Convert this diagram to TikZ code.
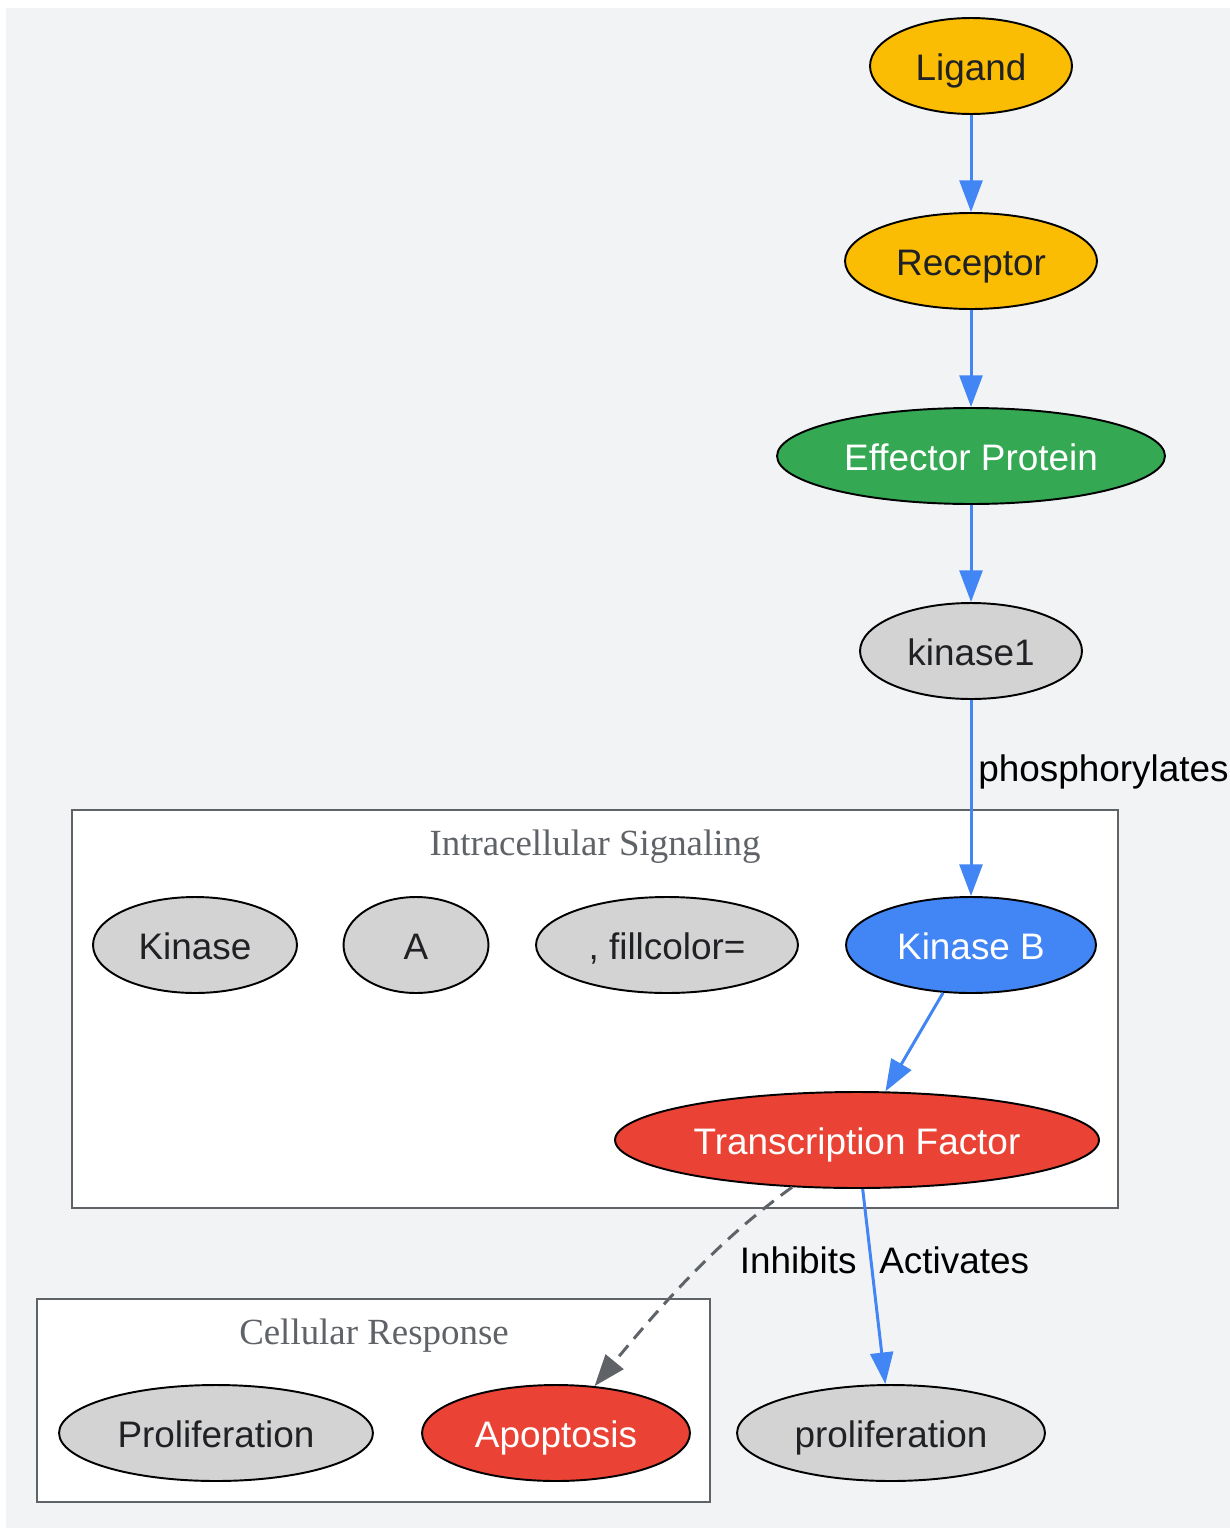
\documentclass[tikz,border=0pt]{standalone}
\usepackage{fontspec}
\setmainfont{Liberation Sans}
\newfontfamily\clusterfont{Liberation Serif}
\usetikzlibrary{shapes.geometric,arrows.meta}

\definecolor{pagebg}{HTML}{F1F3F4}
\definecolor{framegray}{HTML}{5F6368}
\definecolor{gyellow}{HTML}{FBBC04}
\definecolor{ggreen}{HTML}{34A853}
\definecolor{gblue}{HTML}{4285F4}
\definecolor{gred}{HTML}{EA4335}
\definecolor{ggray}{HTML}{D3D3D3}
\definecolor{darktext}{HTML}{202124}

\tikzset{
    mol/.style={
        ellipse,
        draw=black,
        line width=1.1pt,
        fill=ggray,
        text=darktext,
        inner sep=0pt,
        text height=17pt,
        text depth=0pt,
        minimum height=1.92cm,
        font=\fontsize{21}{25}\selectfont
    },
    onfill/.style={text=white},
    cluster/.style={
        draw=framegray,
        fill=white,
        line width=1.1pt
    },
    clusterlabel/.style={
        text=framegray,
        inner sep=0pt,
        font=\clusterfont\fontsize{21}{25}\selectfont
    },
    elabel/.style={
        text=black,
        inner sep=0pt,
        font=\fontsize{21}{25}\selectfont
    },
    signal/.style={
        draw=gblue,
        line width=1.7pt,
        -{Triangle[length=18pt,width=13pt]}
    },
    block/.style={
        draw=framegray,
        line width=1.7pt,
        dash pattern=on 8pt off 5pt,
        -{Triangle[length=18pt,width=13pt]}
    }
}

\begin{document}
\begin{tikzpicture}[
    x=0.02cm,
    y=-0.02cm
]
    \useasboundingbox (0,0) rectangle (1230,1528);
    \fill[pagebg] (6,8) rectangle (1230,1528);

    \begin{scope}[
        every node/.append style={mol}
    ]
        \node[fill=gyellow, minimum width=4.04cm] (ligand) at (971,66) {Ligand};
        \node[fill=gyellow, minimum width=5.04cm] (receptor) at (971,261) {Receptor};
        \node[fill=ggreen, onfill, minimum width=7.76cm] (effector) at (971,456) {Effector Protein};
        \node[minimum width=4.44cm] (kinase1) at (971,651) {kinase1};
    \end{scope}

    \draw[cluster] (72,810) rectangle (1118,1208);
    \node[clusterlabel] (intralabel) at (595,847) {Intracellular Signaling};
    \begin{scope}[
        every node/.append style={mol}
    ]
        \node[minimum width=4.08cm] (kinase) at (195,945) {Kinase};
        \node[minimum width=2.9cm] (kinasea) at (416,945) {A};
        \node[minimum width=5.24cm] (fillcolor) at (667,945) {, fillcolor=};
        \node[fill=gblue, onfill, minimum width=5cm] (kinaseb) at (971,945) {Kinase B};
        \node[fill=gred, onfill, minimum width=9.68cm] (tfactor) at (857,1140) {Transcription Factor};
    \end{scope}

    \draw[cluster] (37,1299) rectangle (710,1502);
    \node[clusterlabel] (responselabel) at (374,1336) {Cellular Response};
    \begin{scope}[
        every node/.append style={mol}
    ]
        \node[minimum width=6.28cm] (prolifcell) at (216,1433) {Proliferation};
        \node[fill=gred, onfill, minimum width=5.36cm] (apoptosis) at (556,1433) {Apoptosis};
    \end{scope}
    \node[mol, minimum width=6.16cm] (proliferation) at (891,1433) {proliferation};

    \draw[signal] (ligand) -- (receptor);
    \draw[signal] (receptor) -- (effector);
    \draw[signal] (effector) -- (kinase1);
    \draw[signal] (kinase1) -- (kinaseb);
    \node[elabel, anchor=west] (phoslabel) at (978,772) {phosphorylates};
    \draw[signal] (kinaseb) -- (tfactor);
    \draw[signal] (tfactor) -- (proliferation);
    \node[elabel, anchor=west] (actlabel) at (879,1260) {Activates};
    \draw[block] (tfactor) .. controls (740,1225) and (690,1270) .. (apoptosis);
    \node[elabel, anchor=east] (inhlabel) at (857,1260) {Inhibits};
\end{tikzpicture}
\end{document}
